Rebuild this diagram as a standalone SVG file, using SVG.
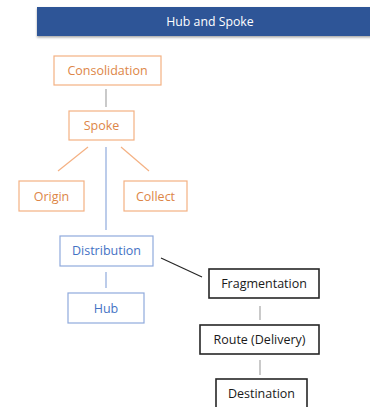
<svg xmlns="http://www.w3.org/2000/svg" width="370" height="407" viewBox="0 0 370 407">
<defs>
<filter id="sh" x="-5%" y="-20%" width="110%" height="150%"><feDropShadow dx="0" dy="1.5" stdDeviation="1" flood-color="#000" flood-opacity="0.35"/></filter>
</defs>
<style>
text{font-family:"Open Sans","Liberation Sans",sans-serif;font-size:12.5px;text-anchor:middle;dominant-baseline:central}
.o rect{fill:#fff;stroke:#F4B183;stroke-width:1.2}
.o text{fill:#DD8647}
.b rect{fill:#fff;stroke:#8FAADC;stroke-width:1.2}
.b text{fill:#4472C4}
.k rect{fill:#fff;stroke:#262626;stroke-width:1.6}
.k text{fill:#1a1a1a}
#conn line{stroke-width:1.2}
</style>
<rect width="370" height="407" fill="#fff"/>
<g id="title">
<rect x="37" y="7" width="340" height="29" fill="#2E5597" filter="url(#sh)"/>
<text x="210" y="21" fill="#fff" style="font-size:12.3px">Hub and Spoke</text>
</g>
<g id="conn">
<line x1="106" y1="89" x2="106" y2="107" stroke="#A6A6A6"/>
<line x1="88" y1="147" x2="58" y2="171" stroke="#F4B183"/>
<line x1="121" y1="147" x2="149" y2="171" stroke="#F4B183"/>
<line x1="106" y1="147" x2="106" y2="230" stroke="#8FAADC"/>
<line x1="106" y1="272" x2="106" y2="288" stroke="#8FAADC"/>
<line x1="161" y1="258" x2="202" y2="277" stroke="#262626"/>
<line x1="260" y1="306" x2="260" y2="320" stroke="#A6A6A6"/>
<line x1="260" y1="360" x2="260" y2="375" stroke="#A6A6A6"/>
</g>
<g id="consolidation" class="o"><rect x="54" y="56" width="107" height="29"/><text x="107.5" y="70.5">Consolidation</text></g>
<g id="spoke" class="o"><rect x="69" y="111" width="65" height="29"/><text x="101.5" y="125.5">Spoke</text></g>
<g id="origin" class="o"><rect x="19" y="181" width="65" height="30"/><text x="51.5" y="196">Origin</text></g>
<g id="collect" class="o"><rect x="124" y="181" width="63" height="30"/><text x="155.5" y="196">Collect</text></g>
<g id="distribution" class="b"><rect x="60" y="236" width="93" height="30"/><text x="106.5" y="250.5">Distribution</text></g>
<g id="hub" class="b"><rect x="68" y="293" width="76" height="30"/><text x="106" y="308">Hub</text></g>
<g id="fragmentation" class="k"><rect x="209" y="269" width="110" height="29"/><text x="264" y="283.5">Fragmentation</text></g>
<g id="route" class="k"><rect x="200" y="325" width="119" height="29"/><text x="259.5" y="339.5">Route (Delivery)</text></g>
<g id="destination" class="k"><rect x="216" y="379" width="91" height="35"/><text x="261.5" y="393.5">Destination</text></g>
</svg>
